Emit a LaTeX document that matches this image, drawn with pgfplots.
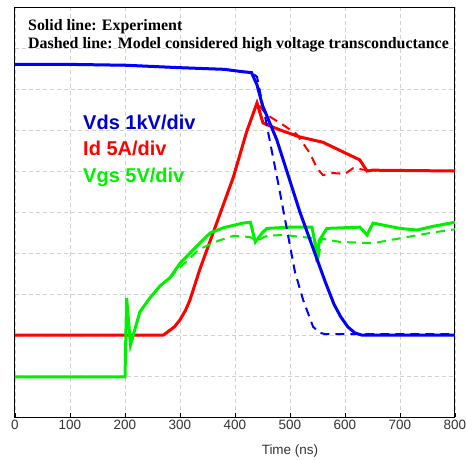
\documentclass[border=0pt]{standalone}
\usepackage{pgfplots}
\pgfplotsset{compat=1.18}
\usepackage{fontspec}
\setmainfont{Liberation Sans}
\newfontfamily\timesf{Liberation Serif}
\definecolor{cblue}{RGB}{0,0,255}
\definecolor{cred}{RGB}{255,0,0}
\definecolor{cgreen}{RGB}{0,240,0}
\definecolor{lblue}{RGB}{0,0,205}
\begin{document}
\begin{tikzpicture}
\begin{axis}[
    scale only axis,
    width=440pt, height=410pt,
    xmin=0, xmax=800, ymin=0, ymax=10,
    xtick={0,100,...,800},
    ytick={1,2,...,9},
    yticklabels={},
    ytick style={draw=none},
    tick pos=bottom,
    tick align=inside,
    major tick length=4pt,
    xtick style={black, line width=0.6pt},
    x tick label style={font=\fontsize{13.5}{14}\selectfont, text=black!80},
    /pgf/number format/assume math mode=true,
    grid=major,
    grid style={gray!35, dash pattern=on 4pt off 3pt, line width=0.6pt},
    axis line style={black, line width=1pt},
    clip=true,
]
% Id (red)
\addplot[cred, line width=2pt, dash pattern=on 9pt off 6pt] coordinates {
(0,2.0) (270,2.0) (280,2.1) (290,2.2) (300,2.37) (310,2.6) (318,2.85) (336,3.6) (397,5.85) (421,6.95) (440,7.66)
(458,7.37) (488,7.12) (512,6.9) (536,6.44) (549,6.07) (560,5.9) (578,5.95) (600,5.93) (615,6.07) (640,6.02) (800,6.0)};
\addplot[cred, line width=3pt] coordinates {
(0,2.0) (270,2.0) (280,2.1) (290,2.2) (300,2.37) (310,2.6) (318,2.85) (336,3.6) (397,5.85) (421,6.95) (440,7.66)
(451,7.17) (482,7.0) (518,6.83) (560,6.7) (591,6.5) (627,6.27) (640,6.0) (650,6.02) (800,6.0)};
% Vgs (green)
\addplot[cgreen, line width=2pt, dash pattern=on 9pt off 6pt] coordinates {
(0,0.98) (200,0.98) (203,2.9) (210,1.76) (227,2.56) (245,2.9) (264,3.2) (282,3.4) (300,3.65) (336,4.1) (370,4.3)
(397,4.42) (427,4.39) (440,4.3) (458,4.42) (488,4.44) (536,4.37) (545,4.35) (552,3.9) (558,4.35) (591,4.27) (651,4.24)
(713,4.39) (760,4.5) (800,4.58)};
\addplot[cgreen, line width=3pt] coordinates {
(0,0.98) (200,0.98) (203,2.9) (210,1.76) (227,2.56) (245,2.9) (264,3.2) (282,3.4) (300,3.75) (336,4.24) (355,4.49)
(380,4.62) (415,4.73) (428,4.75) (437,4.27) (450,4.5) (458,4.6) (500,4.63) (540,4.63) (546,4.2) (549,3.78) (553,4.3)
(567,4.6) (627,4.63) (640,4.44) (651,4.73) (700,4.6) (731,4.56) (760,4.65) (800,4.75)};
% Vds (blue)
\addplot[cblue, line width=2pt, dash pattern=on 9pt off 6pt] coordinates {
(0,8.6) (200,8.58) (300,8.52) (380,8.48) (415,8.42) (430,8.4) (440,8.3) (455,7.3) (480,5.6) (509,3.54) (524,2.85)
(542,2.2) (555,2.05) (565,2.02) (800,2.02)};
\addplot[cblue, line width=3pt] coordinates {
(0,8.6) (100,8.6) (200,8.58) (300,8.52) (380,8.48) (415,8.42) (430,8.4) (440,8.1) (450,7.6) (476,6.76) (518,5.0)
(564,3.3) (580,2.75) (592,2.45) (605,2.2) (618,2.05) (630,2.0) (800,2.0)};
\end{axis}
\pgfresetboundingbox
\path (-15pt,-42pt) rectangle (451pt,417pt);
\node[anchor=base west, inner sep=0pt, font=\timesf\bfseries\fontsize{15.9}{16}\selectfont] at (13pt,386pt) {Solid line: Experiment};
\node[anchor=base west, inner sep=0pt, font=\timesf\bfseries\fontsize{15.9}{16}\selectfont] at (13pt,368pt) {Dashed line: Model considered high voltage transconductance};
\node[anchor=base west, inner sep=0pt, text=lblue, font=\bfseries\fontsize{20}{20}\selectfont] at (68pt,288pt) {Vds 1kV/div};
\node[anchor=base west, inner sep=0pt, text=cred, font=\bfseries\fontsize{20}{20}\selectfont] at (68pt,262pt) {Id 5A/div};
\node[anchor=base west, inner sep=0pt, text=cgreen, font=\bfseries\fontsize{20}{20}\selectfont] at (68pt,235pt) {Vgs 5V/div};
\node[anchor=base, inner sep=0pt, text=black!80, font=\fontsize{13.5}{14}\selectfont] at (275pt,-37pt) {Time (ns)};
\end{tikzpicture}
\end{document}
